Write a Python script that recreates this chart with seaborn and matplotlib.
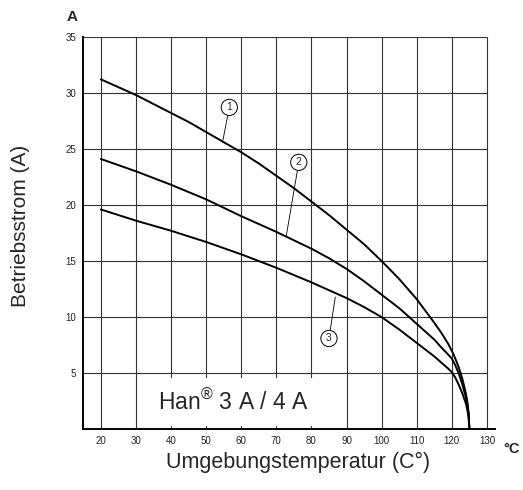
import numpy as np
import pandas as pd
import matplotlib
matplotlib.use("Agg")
import matplotlib.pyplot as plt
import seaborn as sns

# ---- data ----
temp_1 = [20, 25, 30, 35, 40, 45, 50, 55, 60, 65, 70, 75, 80, 85, 90, 95, 100, 105, 110,
          115, 117, 119, 120, 121, 122, 123, 124, 124.5, 124.8, 125]
curr_1 = [31.2, 30.5, 29.8, 29.0, 28.2, 27.4, 26.5, 25.6, 24.7, 23.7, 22.6, 21.5, 20.3, 19.1,
          17.8, 16.5, 15.0, 13.4, 11.6, 9.5, 8.6, 7.6, 7.0, 6.3, 5.5, 4.5, 3.2, 2.3, 1.4, 0.0]

temp_2 = [20, 25, 30, 35, 40, 45, 50, 55, 60, 65, 70, 75, 80, 85, 90, 95, 100, 105, 110,
          115, 117, 119, 120, 121, 122, 123, 124, 124.5, 124.8, 125]
curr_2 = [24.1, 23.55, 23.0, 22.4, 21.8, 21.15, 20.5, 19.75, 19.0, 18.3, 17.6, 16.85, 16.1,
          15.25, 14.3, 13.2, 12.0, 10.8, 9.4, 8.0, 7.3, 6.65, 6.3, 5.7, 4.95, 4.0, 2.85, 2.0,
          1.3, 0.0]

temp_3 = [20, 25, 30, 35, 40, 45, 50, 55, 60, 65, 70, 75, 80, 85, 90, 95, 100, 105, 110,
          115, 117, 119, 120, 121, 122, 123, 124, 124.5, 124.8, 125]
curr_3 = [19.6, 19.1, 18.6, 18.15, 17.7, 17.2, 16.7, 16.15, 15.6, 15.0, 14.4, 13.75, 13.1,
          12.4, 11.7, 10.9, 10.0, 8.9, 7.7, 6.5, 5.95, 5.4, 5.1, 4.6, 3.95, 3.2, 2.3, 1.6,
          1.0, 0.0]

curve_labels = ["1", "2", "3"]
x_ticks = [20, 30, 40, 50, 60, 70, 80, 90, 100, 110, 120, 130]
y_ticks = [5, 10, 15, 20, 25, 30, 35]

df = pd.concat([
    pd.DataFrame({"T": temp_1, "I": curr_1, "curve": "1"}),
    pd.DataFrame({"T": temp_2, "I": curr_2, "curve": "2"}),
    pd.DataFrame({"T": temp_3, "I": curr_3, "curve": "3"}),
])

sns.set_style("white")
plt.rcParams['font.family'] = ['Liberation Sans', 'DejaVu Sans']
plt.rcParams['mathtext.fontset'] = 'custom'
plt.rcParams['mathtext.rm'] = 'Liberation Sans'
plt.rcParams['mathtext.default'] = 'regular'

fig = plt.figure(figsize=(5.23, 4.90), dpi=100)
ax = fig.add_axes([83.3 / 523, 60.7 / 490, (495 - 83.3) / 523, (429.3 - 36.7) / 490])

grid_c = "#333333"
ax.vlines(x_ticks, 0, 35, colors=grid_c, lw=0.8, zorder=1)
ax.hlines(y_ticks, 15, 130, colors=grid_c, lw=0.8, zorder=1)

sns.lineplot(data=df, x="T", y="I", units="curve", estimator=None, sort=False,
             color="black", lw=1.4, ax=ax, zorder=3)

ax.set_xlim(15, 132.3)
ax.set_ylim(0, 35)
ax.set_xticks(x_ticks)
ax.set_yticks(y_ticks)
ax.tick_params(axis="both", length=0, labelsize=7, pad=5, colors="#222222")
for s in ["top", "right"]:
    ax.spines[s].set_visible(False)
for s in ["left", "bottom"]:
    ax.spines[s].set_color("black")
    ax.spines[s].set_linewidth(1.4)
ax.set_xlabel("")
ax.set_ylabel("")

# circled curve labels with leader lines
label_pos = [(56.6, 28.7), (76.4, 23.8), (85.0, 8.1)]
leader_end = [(54.8, 25.8), (72.8, 17.2), (86.8, 11.8)]
for lab, (lx, ly), (ex, ey) in zip(curve_labels, label_pos, leader_end):
    ax.plot([lx, ex], [ly, ey], color="black", lw=0.6, zorder=2)
    ax.text(lx, ly, lab, fontsize=7.5, ha="center", va="center", zorder=4,
            bbox=dict(boxstyle="circle,pad=0.3", fc="white", ec="black", lw=0.7))

ax.text(36.2, 1.72, "Han$^{®}$ 3 A / 4 A", fontsize=16.5, va="baseline", ha="left",
        zorder=5, bbox=dict(boxstyle="square,pad=0.5", fc="white", ec="none"))

fig.text(71.7 / 523, 1 - 16.7 / 490, "A", fontsize=11, fontweight="bold",
         ha="center", va="center")
fig.text(512 / 523, 1 - 449 / 490, "°C", fontsize=10.5, fontweight="bold",
         ha="center", va="center")
fig.text(298 / 523, 1 - 462 / 490, "Umgebungstemperatur (C°)", fontsize=15.5,
         ha="center", va="center")
fig.text(21 / 523, 1 - 226 / 490, "Betriebsstrom (A)", fontsize=15, rotation=90,
         ha="center", va="center")

fig.savefig("out.png", dpi=100)
